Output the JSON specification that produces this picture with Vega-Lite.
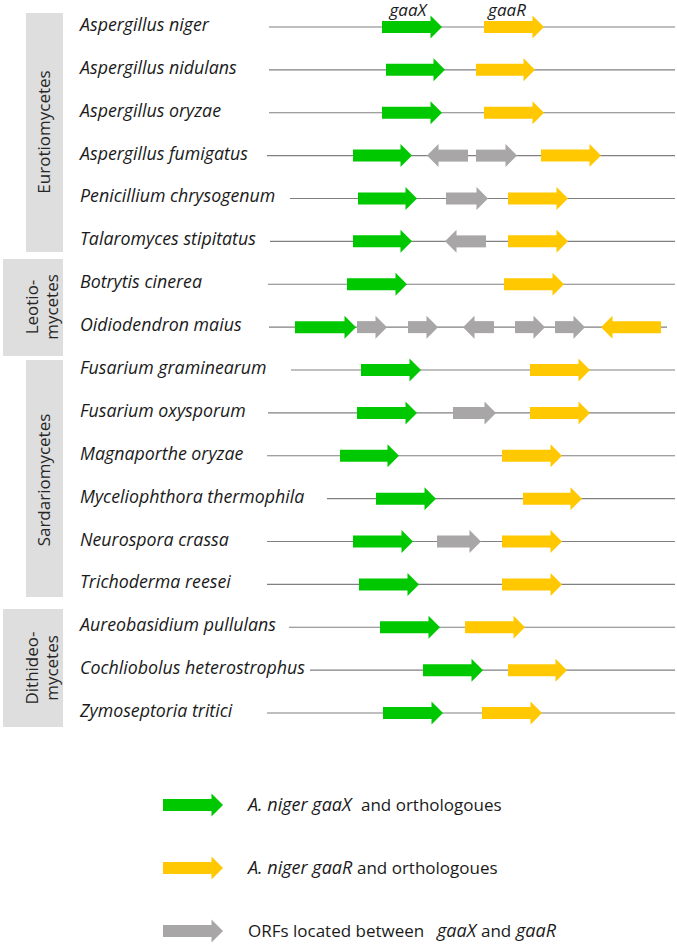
{
  "$schema": "https://vega.github.io/schema/vega-lite/v6.json",
  "width": 677,
  "height": 945,
  "autosize": {"type": "fit", "contains": "padding"},
  "padding": 0,
  "background": "white",
  "config": {"view": {"stroke": null}, "font": "Open Sans"},
  "datasets": {
    "tracks": [
      {"species": "Aspergillus niger", "track": 1, "lineStart": 269, "lineEnd": 675},
      {"species": "Aspergillus nidulans", "track": 2, "lineStart": 269, "lineEnd": 675},
      {"species": "Aspergillus oryzae", "track": 3, "lineStart": 269, "lineEnd": 675},
      {"species": "Aspergillus fumigatus", "track": 4, "lineStart": 267, "lineEnd": 675},
      {"species": "Penicillium chrysogenum", "track": 5, "lineStart": 290, "lineEnd": 675},
      {"species": "Talaromyces stipitatus", "track": 6, "lineStart": 270, "lineEnd": 675},
      {"species": "Botrytis cinerea", "track": 7, "lineStart": 268, "lineEnd": 675},
      {"species": "Oidiodendron maius", "track": 8, "lineStart": 269, "lineEnd": 667},
      {"species": "Fusarium graminearum", "track": 9, "lineStart": 291, "lineEnd": 675},
      {"species": "Fusarium oxysporum", "track": 10, "lineStart": 268, "lineEnd": 675},
      {"species": "Magnaporthe oryzae", "track": 11, "lineStart": 267, "lineEnd": 675},
      {"species": "Myceliophthora thermophila", "track": 12, "lineStart": 327, "lineEnd": 675},
      {"species": "Neurospora crassa", "track": 13, "lineStart": 267, "lineEnd": 675},
      {"species": "Trichoderma reesei", "track": 14, "lineStart": 267, "lineEnd": 675},
      {"species": "Aureobasidium pullulans", "track": 15, "lineStart": 289, "lineEnd": 675},
      {"species": "Cochliobolus heterostrophus", "track": 16, "lineStart": 310, "lineEnd": 675},
      {"species": "Zymoseptoria tritici", "track": 17, "lineStart": 267, "lineEnd": 675}
    ],
    "genes": [
      {"track": 1, "gene": "gaaX", "from": 382, "to": 442},
      {"track": 1, "gene": "gaaR", "from": 484, "to": 544},
      {"track": 2, "gene": "gaaX", "from": 386, "to": 445},
      {"track": 2, "gene": "gaaR", "from": 476, "to": 535},
      {"track": 3, "gene": "gaaX", "from": 382, "to": 442},
      {"track": 3, "gene": "gaaR", "from": 484, "to": 544},
      {"track": 4, "gene": "gaaX", "from": 353, "to": 412},
      {"track": 4, "gene": "ORF", "from": 468, "to": 427},
      {"track": 4, "gene": "ORF", "from": 476, "to": 517},
      {"track": 4, "gene": "gaaR", "from": 541, "to": 601},
      {"track": 5, "gene": "gaaX", "from": 358, "to": 417},
      {"track": 5, "gene": "ORF", "from": 446, "to": 488},
      {"track": 5, "gene": "gaaR", "from": 508, "to": 568},
      {"track": 6, "gene": "gaaX", "from": 353, "to": 412},
      {"track": 6, "gene": "ORF", "from": 486, "to": 445},
      {"track": 6, "gene": "gaaR", "from": 508, "to": 568},
      {"track": 7, "gene": "gaaX", "from": 347, "to": 407},
      {"track": 7, "gene": "gaaR", "from": 504, "to": 564},
      {"track": 8, "gene": "gaaX", "from": 295, "to": 356},
      {"track": 8, "gene": "ORF", "from": 357, "to": 387},
      {"track": 8, "gene": "ORF", "from": 408, "to": 438},
      {"track": 8, "gene": "ORF", "from": 494, "to": 463},
      {"track": 8, "gene": "ORF", "from": 515, "to": 545},
      {"track": 8, "gene": "ORF", "from": 555, "to": 585},
      {"track": 8, "gene": "gaaR", "from": 661, "to": 601},
      {"track": 9, "gene": "gaaX", "from": 361, "to": 421},
      {"track": 9, "gene": "gaaR", "from": 530, "to": 590},
      {"track": 10, "gene": "gaaX", "from": 357, "to": 417},
      {"track": 10, "gene": "ORF", "from": 453, "to": 496},
      {"track": 10, "gene": "gaaR", "from": 530, "to": 590},
      {"track": 11, "gene": "gaaX", "from": 340, "to": 399},
      {"track": 11, "gene": "gaaR", "from": 502, "to": 562},
      {"track": 12, "gene": "gaaX", "from": 376, "to": 436},
      {"track": 12, "gene": "gaaR", "from": 523, "to": 582},
      {"track": 13, "gene": "gaaX", "from": 353, "to": 413},
      {"track": 13, "gene": "ORF", "from": 437, "to": 481},
      {"track": 13, "gene": "gaaR", "from": 502, "to": 562},
      {"track": 14, "gene": "gaaX", "from": 359, "to": 419},
      {"track": 14, "gene": "gaaR", "from": 502, "to": 562},
      {"track": 15, "gene": "gaaX", "from": 380, "to": 440},
      {"track": 15, "gene": "gaaR", "from": 465, "to": 525},
      {"track": 16, "gene": "gaaX", "from": 423, "to": 483},
      {"track": 16, "gene": "gaaR", "from": 508, "to": 567},
      {"track": 17, "gene": "gaaX", "from": 383, "to": 443},
      {"track": 17, "gene": "gaaR", "from": 482, "to": 542},
      {"track": 19.146, "gene": "gaaX", "from": 163, "to": 223},
      {"track": 20.615, "gene": "gaaR", "from": 163, "to": 223},
      {"track": 22.084, "gene": "ORF", "from": 163, "to": 223}
    ],
    "groups": [
      {"label": "Eurotiomycetes", "x0": 26, "x1": 63, "t0": 0.6735, "t1": 6.248, "xc": 45, "tc": 3.449},
      {"label": "Leotio-\nmycetes", "x0": 3, "x1": 63, "t0": 6.411, "t1": 8.674, "xc": 33, "tc": 7.531},
      {"label": "Sardariomycetes", "x0": 26, "x1": 63, "t0": 8.767, "t1": 14.294, "xc": 45, "tc": 11.566},
      {"label": "Dithideo-\nmycetes", "x0": 3, "x1": 63, "t0": 14.574, "t1": 17.327, "xc": 33, "tc": 15.951}
    ],
    "headers": [
      {"label": "gaaX", "x": 408, "track": 0.6502},
      {"label": "gaaR", "x": 507, "track": 0.6502}
    ],
    "legendText": [
      {"track": 19.146, "x": 248, "text": "A. niger gaaX", "part": "name"},
      {"track": 19.146, "x": 361, "text": "and orthologoues", "part": "desc"},
      {"track": 20.615, "x": 248, "text": "A. niger gaaR", "part": "name"},
      {"track": 20.615, "x": 357, "text": "and orthologoues", "part": "desc"},
      {"track": 22.084, "x": 248, "text": "ORFs located between", "part": "desc"},
      {"track": 22.084, "x": 437, "text": "gaaX", "part": "name"},
      {"track": 22.084, "x": 481, "text": "and", "part": "desc"},
      {"track": 22.084, "x": 516, "text": "gaaR", "part": "name"}
    ]
  },
  "layer": [
    {
      "data": {"name": "groups"},
      "mark": {"type": "rect", "fill": "#dedede"},
      "encoding": {
        "x": {"field": "x0", "type": "quantitative", "scale": {"domain": [0, 677], "nice": false, "zero": false}, "axis": null},
        "x2": {"field": "x1"},
        "y": {"field": "t0", "type": "quantitative", "scale": {"domain": [0.3703, 22.411], "nice": false, "zero": false, "reverse": true}, "axis": null},
        "y2": {"field": "t1"}
      }
    },
    {
      "data": {"name": "groups"},
      "mark": {"type": "text", "angle": 270, "align": "center", "baseline": "middle", "lineBreak": "\n", "lineHeight": 20, "fontSize": 17, "fill": "#262626"},
      "encoding": {
        "x": {"field": "xc", "type": "quantitative"},
        "y": {"field": "tc", "type": "quantitative"},
        "text": {"field": "label"}
      }
    },
    {
      "data": {"name": "tracks"},
      "mark": {"type": "rule", "stroke": "#808080", "strokeWidth": 1.2},
      "encoding": {
        "x": {"field": "lineStart", "type": "quantitative"},
        "x2": {"field": "lineEnd"},
        "y": {"field": "track", "type": "quantitative"}
      }
    },
    {
      "data": {"name": "genes"},
      "transform": [{"filter": "datum.to > datum.from"}],
      "mark": {"type": "rule", "strokeWidth": 12, "strokeCap": "butt", "x2Offset": -10},
      "encoding": {
        "x": {"field": "from", "type": "quantitative"},
        "x2": {"field": "to"},
        "y": {"field": "track", "type": "quantitative"},
        "color": {"field": "gene", "type": "nominal", "scale": {"domain": ["gaaX", "gaaR", "ORF"], "range": ["#00c800", "#ffc800", "#a8a6a6"]}, "legend": null}
      }
    },
    {
      "data": {"name": "genes"},
      "transform": [{"filter": "datum.to < datum.from"}],
      "mark": {"type": "rule", "strokeWidth": 12, "strokeCap": "butt", "xOffset": 10},
      "encoding": {
        "x": {"field": "to", "type": "quantitative"},
        "x2": {"field": "from"},
        "y": {"field": "track", "type": "quantitative"},
        "color": {"field": "gene", "type": "nominal", "legend": null}
      }
    },
    {
      "data": {"name": "genes"},
      "transform": [{"filter": "datum.to > datum.from"}],
      "mark": {"type": "point", "shape": "M-1,-1L0,0L-1,1Z", "size": 529, "filled": true, "opacity": 1, "strokeWidth": 0},
      "encoding": {
        "x": {"field": "to", "type": "quantitative"},
        "y": {"field": "track", "type": "quantitative"},
        "color": {"field": "gene", "type": "nominal", "legend": null}
      }
    },
    {
      "data": {"name": "genes"},
      "transform": [{"filter": "datum.to < datum.from"}],
      "mark": {"type": "point", "shape": "M1,-1L0,0L1,1Z", "size": 529, "filled": true, "opacity": 1, "strokeWidth": 0},
      "encoding": {
        "x": {"field": "to", "type": "quantitative"},
        "y": {"field": "track", "type": "quantitative"},
        "color": {"field": "gene", "type": "nominal", "legend": null}
      }
    },
    {
      "data": {"name": "tracks"},
      "mark": {"type": "text", "align": "left", "baseline": "alphabetic", "dy": 4, "fontSize": 17.8, "fontStyle": "italic", "fill": "#1a1a1a"},
      "encoding": {
        "x": {"datum": 80, "type": "quantitative"},
        "y": {"field": "track", "type": "quantitative"},
        "text": {"field": "species"}
      }
    },
    {
      "data": {"name": "headers"},
      "mark": {"type": "text", "align": "center", "baseline": "alphabetic", "dy": 4, "fontSize": 17, "fontStyle": "italic", "fill": "#1a1a1a"},
      "encoding": {
        "x": {"field": "x", "type": "quantitative"},
        "y": {"field": "track", "type": "quantitative"},
        "text": {"field": "label"}
      }
    },
    {
      "data": {"name": "legendText"},
      "transform": [{"filter": "datum.part == 'name'"}],
      "mark": {"type": "text", "align": "left", "baseline": "alphabetic", "dy": 6, "fontSize": 18, "fontStyle": "italic", "fill": "#1a1a1a"},
      "encoding": {
        "x": {"field": "x", "type": "quantitative"},
        "y": {"field": "track", "type": "quantitative"},
        "text": {"field": "text"}
      }
    },
    {
      "data": {"name": "legendText"},
      "transform": [{"filter": "datum.part == 'desc'"}],
      "mark": {"type": "text", "align": "left", "baseline": "alphabetic", "dy": 6, "fontSize": 17, "fill": "#1a1a1a"},
      "encoding": {
        "x": {"field": "x", "type": "quantitative"},
        "y": {"field": "track", "type": "quantitative"},
        "text": {"field": "text"}
      }
    }
  ]
}
